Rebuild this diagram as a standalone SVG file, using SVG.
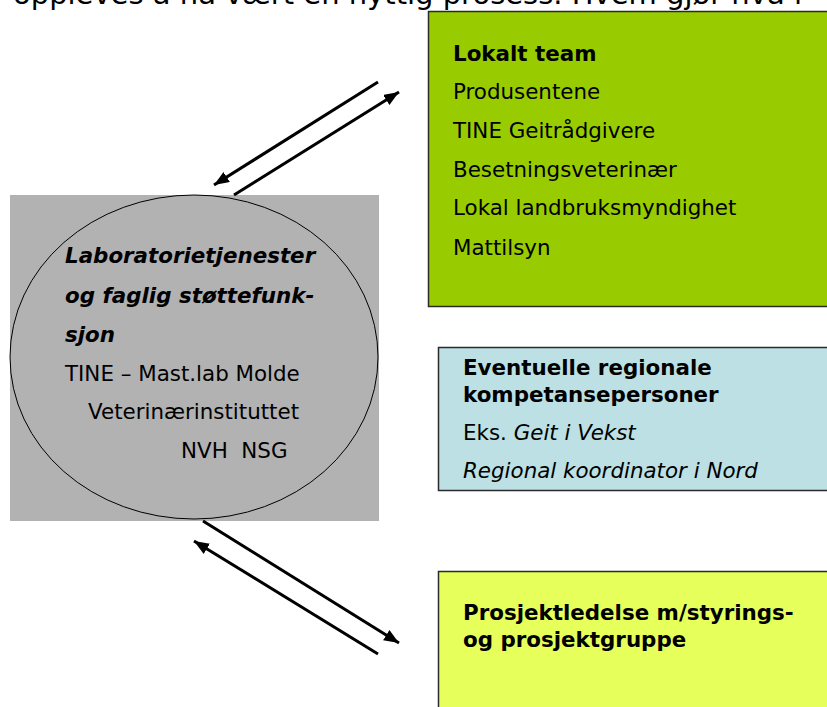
<svg xmlns="http://www.w3.org/2000/svg" width="827" height="707" viewBox="0 0 827 707">
<defs>
<style>
text{font-family:"DejaVu Sans",Verdana,sans-serif;font-size:21.4px;fill:#000}
.b{font-weight:bold}
.bi{font-weight:bold;font-style:italic}
.i{font-style:italic}
.box{stroke:#2a2a2a;stroke-width:1.5}
.conn{stroke:#000;stroke-width:3;fill:none;marker-end:url(#ah)}
</style>
<marker id="ah" markerUnits="userSpaceOnUse" markerWidth="16" markerHeight="13" refX="15" refY="6" orient="auto">
<path d="M0,0 L15,6 L0,12 z" fill="#000"/>
</marker>
</defs>
<rect width="827" height="707" fill="#fff"/>
<text x="13" y="4" style="font-size:29px">oppleves å ha vært en nyttig prosess. Hvem gjør hva i</text>
<g id="lab">
<rect x="10" y="195" width="369" height="326" fill="#b2b2b2"/>
<ellipse cx="194" cy="357" rx="184" ry="162" fill="#b2b2b2" stroke="#000" stroke-width="1"/>
<text class="bi" x="65" y="263">Laboratorietjenester</text>
<text class="bi" x="65" y="303">og faglig støttefunk-</text>
<text class="bi" x="65" y="342">sjon</text>
<text x="65" y="381">TINE – Mast.lab Molde</text>
<text x="88" y="419">Veterinærinstituttet</text>
<text x="181" y="458" xml:space="preserve">NVH  NSG</text>
</g>
<g id="lokalt">
<rect class="box" x="428.5" y="11.5" width="420" height="295" fill="#99cc00"/>
<text class="b" x="453" y="61">Lokalt team</text>
<text x="453" y="99">Produsentene</text>
<text x="453" y="138">TINE Geitrådgivere</text>
<text x="453" y="177">Besetningsveterinær</text>
<text x="453" y="215">Lokal landbruksmyndighet</text>
<text x="453" y="255">Mattilsyn</text>
</g>
<g id="regional">
<rect class="box" x="438.5" y="347.5" width="400" height="143" fill="#bde0e4"/>
<text class="b" x="463" y="375">Eventuelle regionale</text>
<text class="b" x="463" y="402">kompetansepersoner</text>
<text x="463" y="440">Eks. <tspan class="i">Geit i Vekst</tspan></text>
<text class="i" x="463" y="478">Regional koordinator i Nord</text>
</g>
<g id="prosjekt">
<rect class="box" x="438.5" y="571.5" width="400" height="200" fill="#e6ff5a"/>
<text class="b" x="463" y="620">Prosjektledelse m/styrings-</text>
<text class="b" x="463" y="647">og prosjektgruppe</text>
</g>
<g id="connectors">
<path class="conn" d="M378,82 L214,185"/>
<path class="conn" d="M234,195 L399,92"/>
<path class="conn" d="M203,521 L399,643"/>
<path class="conn" d="M378,654 L194,541"/>
</g>
</svg>
